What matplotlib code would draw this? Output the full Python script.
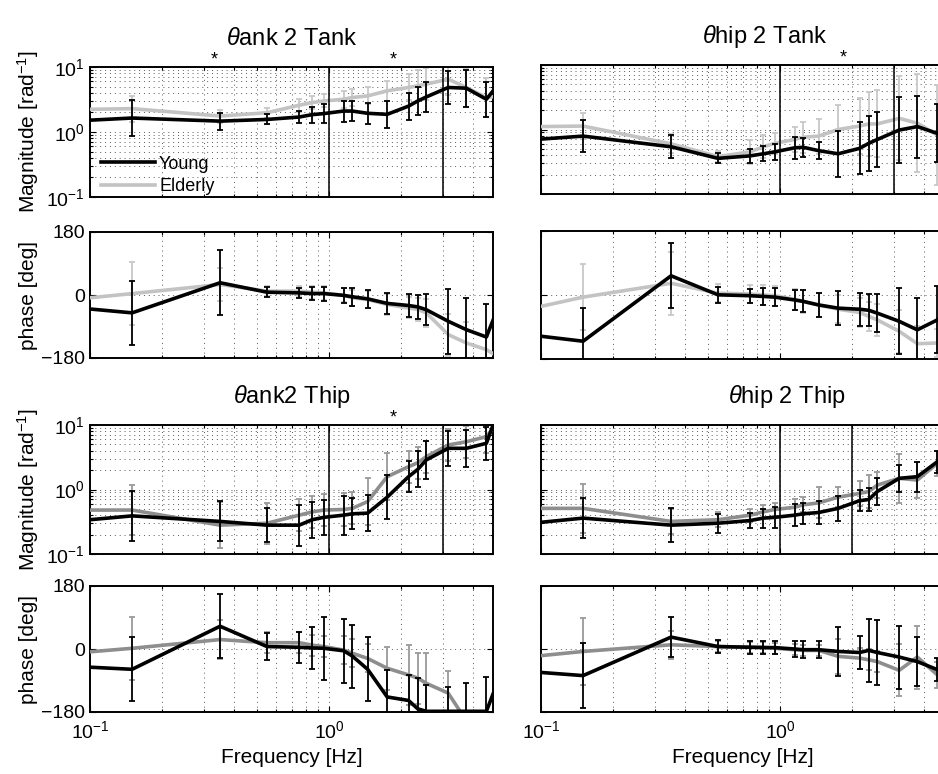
import numpy as np
import matplotlib
matplotlib.use('Agg')
import matplotlib.pyplot as plt
import matplotlib.transforms as mtransforms
from matplotlib.ticker import LogLocator, FixedLocator, NullFormatter, NullLocator

plt.rcParams['font.family'] = ['Liberation Sans', 'DejaVu Sans']
plt.rcParams['mathtext.fontset'] = 'custom'
plt.rcParams['mathtext.rm'] = 'Liberation Sans'
plt.rcParams['mathtext.it'] = 'Liberation Sans:italic'
plt.rcParams['mathtext.bf'] = 'Liberation Sans:bold'

# ---------------- data ----------------
freq = [0.1, 0.15, 0.35, 0.55, 0.75, 0.85, 0.95, 1.15, 1.25, 1.45, 1.75,
        2.15, 2.35, 2.55, 3.15, 3.75, 4.55, 5.2]

# theta_ank -> T_ank
ankT_mag_young = [1.52, 1.64, 1.47, 1.56, 1.70, 1.85, 1.92, 2.1, 2.1, 1.94, 1.87, 2.5, 3.0, 3.46, 4.84, 4.72, 3.19, 5.9]
ankT_mag_young_err = [0, 0.27, 0.13, 0.077, 0.096, 0.122, 0.141, 0.162, 0.16, 0.161, 0.206, 0.207, 0.22, 0.237, 0.259, 0.285, 0.27, 0]
ankT_mag_eld = [2.23, 2.29, 1.76, 1.98, 2.58, 2.84, 3.0, 3.19, 3.39, 3.59, 4.3, 4.84, 5.13, 5.45, 6.5, 4.84, 3.39, 3.6]
ankT_mag_eld_err = [0, 0.2, 0.1, 0.08, 0.1, 0.1, 0.1, 0.13, 0.13, 0.13, 0.15, 0.2, 0.24, 0.25, 0.25, 0.3, 0.3, 0]
ankT_ph_young = [-40, -51, 35, 8, 6, 4, 4, -1, -5, -11, -24, -30, -34, -42, -75, -99, -120, -20]
ankT_ph_young_err = [0, 92, 93, 14, 14, 19, 20, 22, 25, 25, 31, 34, 34, 45, 93, 90, 93, 0]
ankT_ph_eld = [-8, 4, 30, 11, 11, 8, 6, -1, -8, -13, -27, -37, -41, -51, -113, -137, -156, -180]
ankT_ph_eld_err = [0, 90, 48, 15, 15, 18, 20, 20, 22, 25, 30, 30, 32, 40, 60, 60, 40, 0]

# theta_hip -> T_ank
hipT_mag_young = [0.71, 0.79, 0.54, 0.357, 0.39, 0.42, 0.45, 0.52, 0.53, 0.47, 0.42, 0.51, 0.61, 0.70, 0.98, 1.11, 0.87, 0.9]
hipT_mag_young_err = [0, 0.253, 0.18, 0.078, 0.103, 0.116, 0.124, 0.168, 0.147, 0.13, 0.36, 0.405, 0.43, 0.43, 0.51, 0.48, 0.45, 0]
hipT_mag_eld = [1.11, 1.13, 0.6, 0.38, 0.45, 0.54, 0.61, 0.70, 0.76, 0.79, 1.0, 1.13, 1.22, 1.22, 1.49, 1.25, 0.82, 0.8]
hipT_mag_eld_err = [0, 0.2, 0.15, 0.08, 0.19, 0.18, 0.165, 0.2, 0.24, 0.27, 0.38, 0.43, 0.49, 0.52, 0.65, 0.76, 0.78, 0]
hipT_ph_young = [-116, -130, 54, 0.5, -2, -4, -6, -14, -18, -28, -37, -40, -43, -51, -74, -98, -70, -40]
hipT_ph_young_err = [0, 93, 91, 22, 20, 23, 26, 27, 31, 33, 48, 47, 45, 53, 93, 89, 94, 0]
hipT_ph_eld = [-32, -6, 33, 5, 3, 0, -2, -12, -18, -28, -40, -49, -60, -70, -102, -137, -135, -135]
hipT_ph_eld_err = [0, 93, 89, 25, 25, 28, 28, 30, 32, 35, 40, 40, 40, 45, 60, 50, 40, 0]

# theta_ank -> T_hip
ankH_mag_young = [0.34, 0.39, 0.32, 0.28, 0.28, 0.34, 0.37, 0.40, 0.42, 0.43, 0.76, 1.58, 2.05, 2.87, 4.35, 4.35, 5.2, 20]
ankH_mag_young_err = [0, 0.39, 0.31, 0.26, 0.32, 0.28, 0.27, 0.30, 0.24, 0.28, 0.34, 0.245, 0.28, 0.30, 0.27, 0.29, 0.26, 0]
ankH_mag_eld = [0.48, 0.48, 0.28, 0.30, 0.40, 0.45, 0.48, 0.49, 0.51, 0.65, 1.58, 2.26, 2.6, 3.23, 4.9, 5.5, 6.6, 12]
ankH_mag_eld_err = [0, 0.39, 0.36, 0.32, 0.25, 0.25, 0.25, 0.25, 0.25, 0.36, 0.36, 0.25, 0.25, 0.25, 0.25, 0.25, 0.25, 0]
ankH_ph_young = [-52, -58, 65, 7, 5, 3, 2, -5, -20, -58, -137, -147, -171, -178, -178, -178, -178, -75]
ankH_ph_young_err = [0, 91, 91, 38, 45, 61, 90, 92, 90, 91, 77, 73, 88, 76, 70, 81, 99, 0]
ankH_ph_eld = [-8, 2, 27, 18, 18, 11, 7, -3, -12, -27, -55, -74, -83, -98, -126, -205, -215, -215]
ankH_ph_eld_err = [0, 90, 55, 30, 30, 30, 30, 40, 40, 40, 62, 86, 73, 88, 62, 20, 20, 0]

# theta_hip -> T_hip
hipH_mag_young = [0.31, 0.36, 0.28, 0.30, 0.33, 0.36, 0.37, 0.40, 0.42, 0.44, 0.51, 0.67, 0.70, 0.93, 1.49, 1.58, 2.7, 3.5]
hipH_mag_young_err = [0, 0.31, 0.26, 0.147, 0.116, 0.147, 0.168, 0.17, 0.163, 0.176, 0.194, 0.16, 0.18, 0.21, 0.21, 0.23, 0.17, 0]
hipH_mag_eld = [0.51, 0.51, 0.32, 0.34, 0.40, 0.45, 0.49, 0.53, 0.58, 0.62, 0.76, 0.87, 0.93, 1.17, 1.49, 1.40, 2.55, 3.3]
hipH_mag_eld_err = [0, 0.38, 0.2, 0.12, 0.1, 0.1, 0.1, 0.125, 0.12, 0.24, 0.155, 0.2, 0.26, 0.2, 0.38, 0.28, 0.19, 0]
hipH_ph_young = [-67, -76, 34, 7, 5, 4, 4, 0, -2, -2, -7, -10, -4, -10, -23, -36, -59, -45]
hipH_ph_young_err = [0, 92, 58, 19, 18, 19, 19, 23, 25, 24, 71, 48, 91, 92, 90, 71, 33, 0]
hipH_ph_eld = [-19, -7, 12, 7, 5, 5, 2, -2, -4, -4, -21, -26, -31, -36, -61, -23, -74, -85]
hipH_ph_eld_err = [0, 95, 40, 15, 15, 15, 15, 15, 15, 15, 50, 30, 30, 30, 74, 90, 38, 0]

titles = [r"$\theta$ank 2 Tank", r"$\theta$hip 2 Tank", r"$\theta$ank2 Thip", r"$\theta$hip 2 Thip"]
title_x = [0.5, 0.555, 0.5, 0.61]
stars = [[0.33, 1.85], [1.83], [1.85], []]
vlines = [[1.0, 3.0], [1.0, 3.0], [1.0, 3.0], [1.0, 2.0]]

panels = [
    (ankT_mag_young, ankT_mag_young_err, ankT_mag_eld, ankT_mag_eld_err,
     ankT_ph_young, ankT_ph_young_err, ankT_ph_eld, ankT_ph_eld_err),
    (hipT_mag_young, hipT_mag_young_err, hipT_mag_eld, hipT_mag_eld_err,
     hipT_ph_young, hipT_ph_young_err, hipT_ph_eld, hipT_ph_eld_err),
    (ankH_mag_young, ankH_mag_young_err, ankH_mag_eld, ankH_mag_eld_err,
     ankH_ph_young, ankH_ph_young_err, ankH_ph_eld, ankH_ph_eld_err),
    (hipH_mag_young, hipH_mag_young_err, hipH_mag_eld, hipH_mag_eld_err,
     hipH_ph_young, hipH_ph_young_err, hipH_ph_eld, hipH_ph_eld_err),
]

# ---------------- layout ----------------
W, H = 938, 774
fig = plt.figure(figsize=(W / 100, H / 100), dpi=100)

def rect(x0, top, bot, w=403):
    return [x0 / W, 1 - bot / H, w / W, (bot - top) / H]

col_x = [90, 541, 90, 541]
mag_rows = [(67, 197), (65, 194), (425, 554), (425, 554)]
ph_rows = [(232, 358), (231, 359), (586, 712), (586, 712)]

YOUNG = 'black'
ELD_LIGHT = '#c3c3c3'
ELD_DARK = '#8e8e8e'
GRID_KW = dict(color='0.35', linestyle=(0, (1, 4)), linewidth=0.7)

f = np.array(freq)
sl = slice(1, len(freq) - 1)

def style_axes(ax):
    ax.set_xscale('log')
    ax.set_xlim(0.1, 4.85)
    ax.xaxis.set_major_locator(LogLocator(base=10, numticks=10))
    ax.xaxis.set_minor_locator(LogLocator(base=10, subs=np.arange(2, 10), numticks=20))
    ax.xaxis.set_minor_formatter(NullFormatter())
    ax.tick_params(which='both', direction='in', top=True, right=True, width=0.8)
    ax.tick_params(which='major', length=4)
    ax.tick_params(which='minor', length=2)
    for s in ax.spines.values():
        s.set_linewidth(1.4)
    ax.grid(True, which='both', axis='x', **GRID_KW)

for i, p in enumerate(panels):
    my, mye, me, mee, py, pye, pe, pee = [np.array(a, dtype=float) for a in p]
    eld_col = ELD_LIGHT if i < 2 else ELD_DARK
    eld_ecol = '#c8c8c8' if i < 2 else '#9a9a9a'
    t0, b0 = mag_rows[i]
    t1, b1 = ph_rows[i]
    axm = fig.add_axes(rect(col_x[i], t0, b0))
    axp = fig.add_axes(rect(col_x[i], t1, b1))

    # magnitude
    style_axes(axm)
    axm.set_yscale('log')
    axm.set_ylim(0.1, 10)
    axm.yaxis.set_major_locator(LogLocator(base=10, numticks=10))
    axm.yaxis.set_minor_locator(LogLocator(base=10, subs=np.arange(2, 10), numticks=20))
    axm.yaxis.set_minor_formatter(NullFormatter())
    axm.grid(True, which='both', axis='y', **GRID_KW)
    axm.set_axisbelow(True)
    axm.errorbar(f[sl], me[sl], yerr=[me[sl] - me[sl] / 10 ** mee[sl], me[sl] * 10 ** mee[sl] - me[sl]],
                 fmt='none', ecolor=eld_ecol, elinewidth=1.3, capsize=2, capthick=1.3, zorder=2)
    le, = axm.plot(f, me, color=eld_col, lw=2.6, zorder=3, label='Elderly')
    axm.errorbar(f[sl], my[sl], yerr=[my[sl] - my[sl] / 10 ** mye[sl], my[sl] * 10 ** mye[sl] - my[sl]],
                 fmt='none', ecolor=YOUNG, elinewidth=1.3, capsize=2, capthick=1.3, zorder=4)
    ly, = axm.plot(f, my, color=YOUNG, lw=2.6, zorder=5, label='Young')
    for v in vlines[i]:
        axm.axvline(v, color='black', lw=1.1, zorder=6)
    axm.tick_params(labelbottom=False)
    axm.tick_params(axis='y', labelsize=14)
    if i % 2 == 1:
        axm.tick_params(labelleft=False)
    else:
        axm.set_ylabel(r"Magnitude [rad$^{-1}$]", fontsize=15, labelpad=4)
    axm.set_title(titles[i], fontsize=17, x=title_x[i], pad=16)
    trans = mtransforms.blended_transform_factory(axm.transData, axm.transAxes)
    for s in stars[i]:
        axm.text(s, 0.99, '*', transform=trans, ha='center', va='bottom', fontsize=13)
    if i == 0:
        axm.legend(handles=[ly, le], loc='lower left', bbox_to_anchor=(0.01, -0.04),
                   frameon=False, fontsize=13, handlelength=3.0, handletextpad=0.2,
                   labelspacing=0.3, borderaxespad=0)

    # phase
    style_axes(axp)
    axp.set_ylim(-180, 180)
    axp.yaxis.set_major_locator(FixedLocator([-180, 0, 180]))
    axp.yaxis.set_minor_locator(NullLocator())
    axp.grid(True, which='major', axis='y', **GRID_KW)
    axp.set_axisbelow(True)
    axp.errorbar(f[sl], pe[sl], yerr=pee[sl], fmt='none', ecolor=eld_ecol, elinewidth=1.3,
                 capsize=2, capthick=1.3, zorder=2)
    axp.plot(f, pe, color=eld_col, lw=2.6, zorder=3)
    axp.errorbar(f[sl], py[sl], yerr=pye[sl], fmt='none', ecolor=YOUNG, elinewidth=1.3,
                 capsize=2, capthick=1.3, zorder=4)
    axp.plot(f, py, color=YOUNG, lw=2.6, zorder=5)
    axp.tick_params(axis='y', labelsize=14)
    axp.tick_params(axis='x', labelsize=14, pad=6)
    if i % 2 == 1:
        axp.tick_params(labelleft=False)
    else:
        axp.set_ylabel("phase [deg]", fontsize=15, labelpad=2)
    if i < 2:
        axp.tick_params(labelbottom=False)
    else:
        axp.set_xlabel("Frequency [Hz]", fontsize=15, labelpad=4)

fig.savefig('out.png', dpi=100)
